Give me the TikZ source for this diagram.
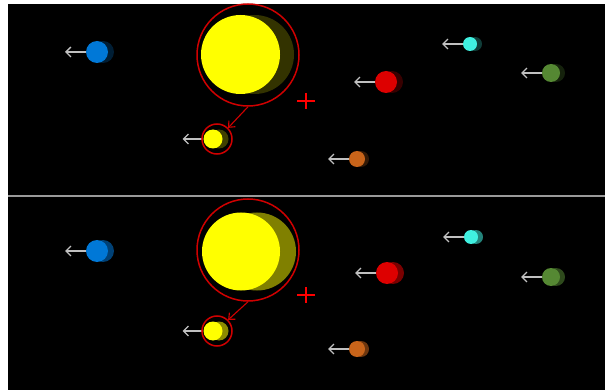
\documentclass[tikz,border=0pt]{standalone}
\usepackage{tikz}
\usetikzlibrary{arrows.meta}

\definecolor{sunyellow}{RGB}{255,255,0}
\definecolor{skyblue}{HTML}{0078D7}
\definecolor{aqua}{HTML}{40F0E0}
\definecolor{marsred}{HTML}{DD0000}
\definecolor{leaf}{HTML}{558833}
\definecolor{rust}{HTML}{C8641A}
\definecolor{ringred}{HTML}{D00000}
\definecolor{crossred}{RGB}{255,0,0}
\definecolor{velgray}{HTML}{C0C0C0}
\definecolor{sepgray}{HTML}{999999}

\begin{document}
\begin{tikzpicture}[x=1pt,y=-1pt,
    body/.style={circle,inner sep=0pt,minimum size=#1},
    ring/.style={circle,draw=ringred,line width=1.5pt,inner sep=0pt,minimum size=#1},
    vel/.style={draw=velgray,line width=1.3pt,-{Straight Barb[length=5pt,width=10pt]}},
    link/.style={draw=ringred,line width=1.1pt,-{Straight Barb[length=5pt,width=9pt]}},
    cmark/.style={draw=crossred,line width=2pt}]
  \useasboundingbox (0,0) rectangle (605,390);
  \fill[black] (8,4) rectangle (605,390);
  \draw[sepgray,line width=2pt] (8,196) -- (605,196);

  % upper panel: faint shadows
  \node[body=79,fill=sunyellow,fill opacity=0.2] (bigsun-ts) at (254.5,54.5) {};
  \node[body=79,fill=sunyellow] (bigsun-t) at (240.5,54.5) {};
  \foreach \n/\x/\y/\r/\c/\dx in {sun-t/213/139/9.5/sunyellow/6, blue-t/97/52/11/skyblue/6,
      aqua-t/470/44/7/aqua/5, red-t/386/82/11/marsred/6,
      green-t/551/73/9/leaf/5, orange-t/357/159/8/rust/4}
  {
    \node[body=2*\r,fill=\c,fill opacity=0.25] (\n s) at (\x+\dx,\y) {};
    \node[body=2*\r,fill=\c] (\n) at (\x,\y) {};
    \coordinate (\n v) at (\x-\r-21,\y);
    \draw[vel] (\n.west) -- (\n v);
  }
  \node[ring=102] (orbit-t) at (248,55) {};
  \node[ring=30] (hill-t) at (217,139) {};
  \draw[link] (orbit-t.south) -- (hill-t.45);
  \coordinate (cm-t) at (306,101);
  \draw[cmark] (cm-t) ++(-9,0) -- ++(18,0) (cm-t) ++(0,-8) -- ++(0,16);

  % lower panel: stronger shadows
  \node[body=78,fill=sunyellow,fill opacity=0.5] (bigsun-bs) at (257,251.5) {};
  \node[body=78,fill=sunyellow] (bigsun-b) at (241,251.5) {};
  \foreach \n/\x/\y/\r/\c/\dx in {sun-b/213/331/9.5/sunyellow/6, blue-b/97/251/11/skyblue/6,
      aqua-b/471/237/7/aqua/5, red-b/387/273/11/marsred/6,
      green-b/551/277/9/leaf/5, orange-b/357/349/8/rust/4}
  {
    \node[body=2*\r,fill=\c,fill opacity=0.55] (\n s) at (\x+\dx,\y) {};
    \node[body=2*\r,fill=\c] (\n) at (\x,\y) {};
    \coordinate (\n v) at (\x-\r-21,\y);
    \draw[vel] (\n.west) -- (\n v);
  }
  \node[ring=102] (orbit-b) at (248,250) {};
  \node[ring=30] (hill-b) at (217,331) {};
  \draw[link] (orbit-b.south) -- (hill-b.45);
  \coordinate (cm-b) at (306,295);
  \draw[cmark] (cm-b) ++(-9,0) -- ++(18,0) (cm-b) ++(0,-8) -- ++(0,16);
\end{tikzpicture}
\end{document}
